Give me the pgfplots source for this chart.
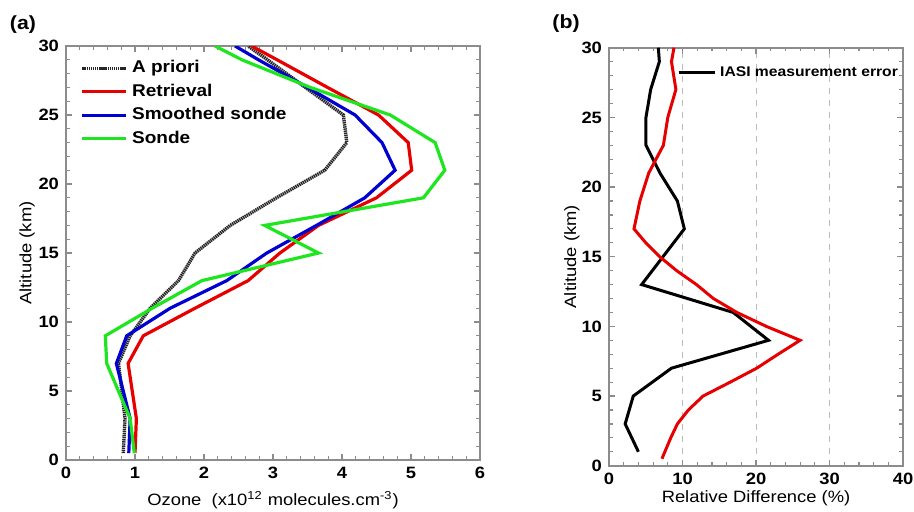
\documentclass[border=0pt]{standalone}
\usepackage{fontspec}
\setmainfont{Liberation Sans}[FakeStretch=1.12]
\usepackage{pgfplots}
\pgfplotsset{compat=1.18}

\definecolor{lred}{HTML}{E60000}
\definecolor{lblue}{HTML}{0000D0}
\definecolor{lgreen}{HTML}{1EE61E}
\definecolor{axgray}{HTML}{8C8C8C}

\pgfplotsset{
  panel/.style={
    scale only axis,
    anchor=south west,
    axis line style={axgray, line width=0.8pt},
    tick style={axgray, line width=0.6pt},
    tick align=inside,
    major tick length=3pt,
    minor tick length=1.8pt,
    ymin=0, ymax=30,
    ytick={0,5,...,30},
    minor y tick num=4,
    /pgf/number format/assume math mode=true,
    tick label style={font=\fontsize{8.2}{9}\selectfont\bfseries},
    label style={font=\fontsize{8.2}{9}\selectfont},
    legend style={draw=none, fill=none, font=\fontsize{8.5}{9}\selectfont\bfseries,
      cells={anchor=west}, row sep=0.1pt},
    legend image code/.code={\draw[#1] (0pt,0pt) -- (22pt,0pt);},
  }
}

\begin{document}
\begin{tikzpicture}
\path[use as bounding box] (0,0) rectangle (457pt,255.5pt);

\begin{axis}[panel,
  at={(33pt,25.5pt)}, width=207pt, height=207pt,
  xmin=0, xmax=6, xtick={0,...,6}, minor x tick num=4,
  xlabel={Ozone\ \ (x10\textsuperscript{12} molecules.cm\textsuperscript{-3})},
  ylabel={Altitude (km)},
  x label style={at={(axis description cs:0.5,-0.097)}, anchor=center},
  y label style={at={(axis description cs:-0.094,0.5)}, anchor=center},
  legend style={at={(axis description cs:0.02,0.985)}, anchor=north west},
]
\addplot[black!85, line width=1.7pt, dash pattern=on 0.7pt off 0.35pt] coordinates {
(0.83,0.5)(0.855,3)(0.81,5)(0.76,7)(0.93,9)(1.22,11)(1.63,13)(1.87,15)
(2.38,17)(3.05,19)(3.75,21)(4.07,23)(4.02,25)(3.47,27)(2.92,29)(2.64,30)};
\addlegendentry{A priori}
\addplot[lred, line width=1.6pt] coordinates {
(1.0,0.5)(1.02,3)(0.96,5)(0.90,7)(1.12,9)(1.87,11)(2.64,13)(3.10,15)
(3.66,17)(4.50,19)(5.01,21)(4.96,23)(4.53,25)(3.79,27)(3.06,29)(2.69,30)};
\addlegendentry{Retrieval}
\addplot[lblue, line width=1.6pt] coordinates {
(0.91,0.5)(0.93,3)(0.83,5)(0.73,7)(0.88,9)(1.51,11)(2.33,13)(2.91,15)
(3.63,17)(4.33,19)(4.77,21)(4.58,23)(4.19,25)(3.50,27)(2.79,29)(2.45,30)};
\addlegendentry{Smoothed sonde}
\addplot[lgreen, line width=1.6pt] coordinates {
(0.99,0.5)(0.93,3)(0.76,5)(0.59,7)(0.57,9)(1.25,11)(1.97,13)(3.66,15)
(2.88,17)(5.18,19)(5.49,21)(5.35,23)(4.70,25)(3.54,27)(2.55,29)(2.16,30)};
\addlegendentry{Sonde}
\end{axis}

\begin{axis}[panel,
  at={(304.5pt,22.65pt)}, width=147pt, height=209pt,
  xmin=0, xmax=40, xtick={0,10,...,40}, minor x tick num=4,
  xmajorgrids, major grid style={axgray!60, dashed, line width=0.5pt},
  xlabel={Relative Difference (\%)},
  ylabel={Altitude (km)},
  x label style={at={(axis description cs:0.5,-0.0775)}, anchor=center},
  y label style={at={(axis description cs:-0.126,0.5)}, anchor=center},
  legend style={at={(axis description cs:0.21,0.975)}, anchor=north west,
    font=\fontsize{7}{8}\selectfont\bfseries},
  legend image code/.code={\draw[#1] (0pt,0pt) -- (18pt,0pt);},
]
\addplot[black, line width=1.5pt] coordinates {
(4.0,1)(2.2,3)(3.3,5)(8.5,7)(21.7,9)(16.9,11)(4.44,13)(10.25,17)(9.3,19)
(6.94,21)(5.03,23)(5.03,25)(5.67,27)(6.85,29)(6.71,30)};
\addlegendentry{IASI measurement error}
\addplot[lred, line width=1.5pt, forget plot] coordinates {
(7.2,0.5)(8.4,2)(9.3,3)(10.8,4)(12.8,5)(16.5,6)(20.1,7)(23.0,8)(26.0,9)
(21.4,10)(17.4,11)(14.2,12)(11.9,13)(9.2,14)(6.9,15)(5.0,16)(3.4,17)
(4.2,19)(5.4,21)(7.4,23)(8.0,25)(9.1,27)(8.5,29)(8.84,30)};
\end{axis}

\node[font=\fontsize{9.5}{10}\selectfont\bfseries] at (11.5pt,243pt) {(a)};
\node[font=\fontsize{9.5}{10}\selectfont\bfseries] at (283pt,243.5pt) {(b)};
\end{tikzpicture}
\end{document}
